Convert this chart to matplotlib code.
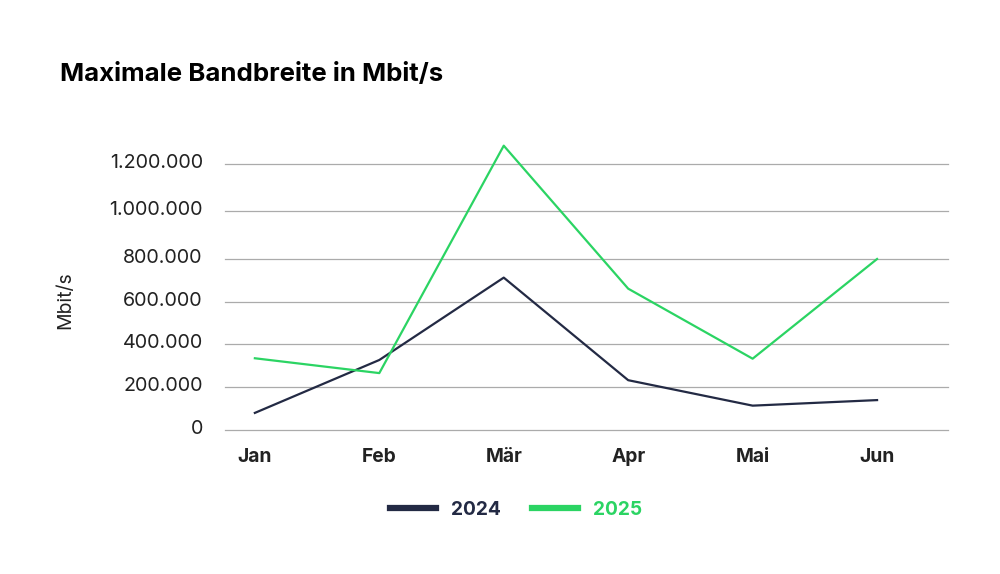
import numpy as np
import matplotlib
matplotlib.use("Agg")
import matplotlib.pyplot as plt
from matplotlib.transforms import ScaledTranslation

# data
months = ["Jan", "Feb", "Mär", "Apr", "Mai", "Jun"]
bw_2024 = [80000, 327000, 714000, 233000, 114000, 140000]
bw_2025 = [335000, 266000, 1278000, 663000, 333000, 800000]
y_ticks = [0, 200000, 400000, 600000, 800000, 1000000, 1200000]
y_labels = ["0", "200.000", "400.000", "600.000", "800.000", "1.000.000", "1.200.000"]

NAVY = "#232a44"
GREEN = "#2bd463"
GRID = "#ababab"
TXT = "#222222"

plt.rcParams["font.family"] = ["Inter", "DejaVu Sans"]

# the source chart spaces its gridlines unevenly (upper steps are wider)
grid_v = np.array([0, 200e3, 400e3, 600e3, 800e3, 1000e3, 1200e3, 1400e3])
grid_u = np.array([0, 42.7, 85.7, 127.7, 171.0, 219.0, 266.0, 313.0])


def fwd(v):
    return np.interp(v, grid_v, grid_u)


def inv(u):
    return np.interp(u, grid_u, grid_v)


fig = plt.figure(figsize=(10, 5.74), dpi=100)
ax = fig.add_axes([0.225, 0.2509, 0.723, 0.5043])
ax.set_yscale("function", functions=(fwd, inv))

x = np.arange(len(months))
l1, = ax.plot(x, bw_2024, color=NAVY, lw=1.6, label="2024")
l2, = ax.plot(x, bw_2025, color=GREEN, lw=1.6, label="2025")

ax.set_xlim(-0.24, 5.57)
ax.set_ylim(0, 1300000)
ax.set_yticks(y_ticks)
ax.set_yticklabels(y_labels)
ax.set_xticks(x)
ax.set_xticklabels(months, fontweight="bold")
ax.yaxis.grid(True, color=GRID, lw=0.9)
for gl in ax.get_ygridlines():
    gl.set_clip_on(False)
ax.set_axisbelow(True)
for s in ax.spines.values():
    s.set_visible(False)
ax.tick_params(axis="y", length=0, pad=16, labelsize=14.2, labelcolor=TXT)
ax.tick_params(axis="x", length=0, pad=13, labelsize=13.8, labelcolor=TXT)

# labels sit a little above their gridlines
off = ScaledTranslation(0, 3 / 100, fig.dpi_scale_trans)
for lab in ax.get_yticklabels():
    lab.set_transform(lab.get_transform() + off)

ax.set_ylabel("Mbit/s", fontsize=14, color=TXT)
ax.yaxis.set_label_coords(-0.209, 0.45)

fig.text(0.06, 1 - 81 / 574, "Maximale Bandbreite in Mbit/s",
         fontsize=18.6, fontweight="bold", color="#000000", va="baseline")

leg = fig.legend(handles=[l1, l2], loc="center", ncol=2, frameon=False,
                 bbox_to_anchor=(0.516, 1 - 510 / 574),
                 prop={"weight": "bold", "size": 13.8},
                 handlelength=2.4, handletextpad=0.8, columnspacing=1.6,
                 labelcolor="linecolor")
for ln in leg.get_lines():
    ln.set_linewidth(4.5)

fig.savefig("out.png", dpi=100)
